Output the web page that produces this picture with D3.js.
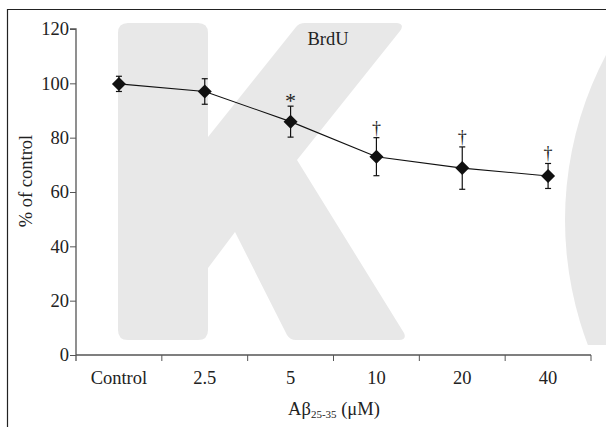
<!DOCTYPE html>
<html>
<head>
<meta charset="utf-8">
<script src="https://cdn.jsdelivr.net/npm/d3@7"></script>
<style>
  body { margin: 0; background: #fff; }
  svg { display: block; }
</style>
</head>
<body>
<svg id="chart" width="606" height="427"></svg>
<script>
const categories = ["Control", "2.5", "5", "10", "20", "40"];
const values = [99.8, 97.0, 85.9, 73.0, 68.8, 65.9];
const errors = [2.8, 4.7, 5.7, 7.0, 7.8, 4.6];
const marks = ["", "", "*", "\u2020", "\u2020", "\u2020"];
const yTicks = [0, 20, 40, 60, 80, 100, 120];

const serif = "'Liberation Serif', 'Times New Roman', serif";
const margin = { top: 29, right: 15, bottom: 72, left: 76 };
const width = 606;
const height = 427;

const svg = d3.select("#chart")
  .style("font-family", serif);

// watermark (faint K and C behind the chart)
svg.append("path")
  .attr("fill", "#e8e8e8")
  .attr("d", "M118,33 Q118,23 128,23 L198,23 Q208,23 208,33 L208,137 L296,27 Q299,23 305,23 L397,23 Q405,24 400,31 L297,160 L404,333 Q407,340 399,340 L296,340 Q290,340 287,335 L235,232 L208,268 L208,330 Q208,340 198,340 L128,340 Q118,340 118,330 Z");

svg.append("clipPath").attr("id", "cclip")
  .append("rect").attr("x", 0).attr("y", 25).attr("width", width).attr("height", 320);
svg.append("circle")
  .attr("clip-path", "url(#cclip)")
  .attr("cx", 918).attr("cy", 220).attr("r", 353)
  .attr("fill", "#e8e8e8");

// frame (top and left edges only)
svg.append("path")
  .attr("fill", "none")
  .attr("stroke", "#222")
  .attr("stroke-width", 1.2)
  .attr("d", `M7.5,${height} V9.5 H${width}`);

const x = d3.scaleBand()
  .domain(categories)
  .range([margin.left, width - margin.right]);

const y = d3.scaleLinear()
  .domain([0, 120])
  .range([height - margin.bottom, margin.top]);

const y0 = y(0);

// y axis
const yAxis = svg.append("g")
  .attr("transform", `translate(${margin.left},0)`)
  .call(d3.axisLeft(y).tickValues(yTicks).tickSize(6).tickPadding(1));
yAxis.style("font-family", serif).attr("font-size", 18.5);
yAxis.select(".domain").attr("stroke", "#555").attr("stroke-width", 1.3)
  .attr("d", `M-6,${y(120)}H0V${y0 + 6}`);
yAxis.selectAll(".tick line").attr("stroke", "#555");
yAxis.selectAll(".tick text").attr("fill", "#222");

// x axis with ticks between categories
const xg = svg.append("g").attr("transform", `translate(0,${y0})`);
xg.append("line")
  .attr("x1", margin.left).attr("x2", x.range()[1])
  .attr("stroke", "#555").attr("stroke-width", 1.3);
xg.selectAll(".xtick")
  .data(categories)
  .enter().append("line")
  .attr("class", "xtick")
  .attr("x1", d => x(d) + x.bandwidth())
  .attr("x2", d => x(d) + x.bandwidth())
  .attr("y1", 0).attr("y2", 6)
  .attr("stroke", "#555");
xg.selectAll(".xlabel")
  .data(categories)
  .enter().append("text")
  .attr("class", "xlabel")
  .attr("x", d => x(d) + x.bandwidth() / 2)
  .attr("y", 29)
  .attr("text-anchor", "middle")
  .attr("font-size", 18.5)
  .attr("fill", "#222")
  .text(d => d);

// axis titles
svg.append("text")
  .attr("transform", "translate(32,181) rotate(-90)")
  .attr("text-anchor", "middle")
  .attr("font-size", 18.5)
  .attr("fill", "#222")
  .text("% of control");

const xt = svg.append("text")
  .attr("x", 334)
  .attr("y", 415)
  .attr("text-anchor", "middle")
  .attr("font-size", 18.5)
  .attr("fill", "#222");
xt.append("tspan").text("A\u03b2");
xt.append("tspan").attr("font-size", 11).attr("dy", 3).text("25-35");
xt.append("tspan").attr("dy", -3).text(" (\u03bcM)");

svg.append("text")
  .attr("x", 328)
  .attr("y", 45)
  .attr("text-anchor", "middle")
  .attr("font-size", 18.5)
  .attr("fill", "#222")
  .text("BrdU");

const cx = d => x(d) + x.bandwidth() / 2;

// error bars
const eb = svg.append("g").attr("stroke", "#111").attr("stroke-width", 1.2);
categories.forEach((c, i) => {
  const top = y(values[i] + errors[i]);
  const bot = y(values[i] - errors[i]);
  eb.append("line").attr("x1", cx(c)).attr("x2", cx(c)).attr("y1", top).attr("y2", bot);
  eb.append("line").attr("x1", cx(c) - 3).attr("x2", cx(c) + 3).attr("y1", top).attr("y2", top);
  eb.append("line").attr("x1", cx(c) - 3).attr("x2", cx(c) + 3).attr("y1", bot).attr("y2", bot);
});

// line
const line = d3.line()
  .x((d, i) => cx(categories[i]))
  .y(d => y(d));

svg.append("path")
  .datum(values)
  .attr("fill", "none")
  .attr("stroke", "#111")
  .attr("stroke-width", 1.1)
  .attr("d", line);

// diamond markers
svg.selectAll(".dot")
  .data(values)
  .enter().append("path")
  .attr("class", "dot")
  .attr("transform", (d, i) => `translate(${cx(categories[i])},${y(d)})`)
  .attr("d", "M0,-7L7,0L0,7L-7,0Z")
  .attr("fill", "#111");

// significance marks
svg.selectAll(".sig")
  .data(marks)
  .enter().append("text")
  .attr("class", "sig")
  .attr("x", (d, i) => cx(categories[i]))
  .attr("y", (d, i) => y(values[i] + errors[i]) + (d === "*" ? 2 : -4))
  .attr("text-anchor", "middle")
  .attr("font-size", d => d === "*" ? 22 : 18)
  .attr("fill", "#222")
  .text(d => d);
</script>
</body>
</html>
